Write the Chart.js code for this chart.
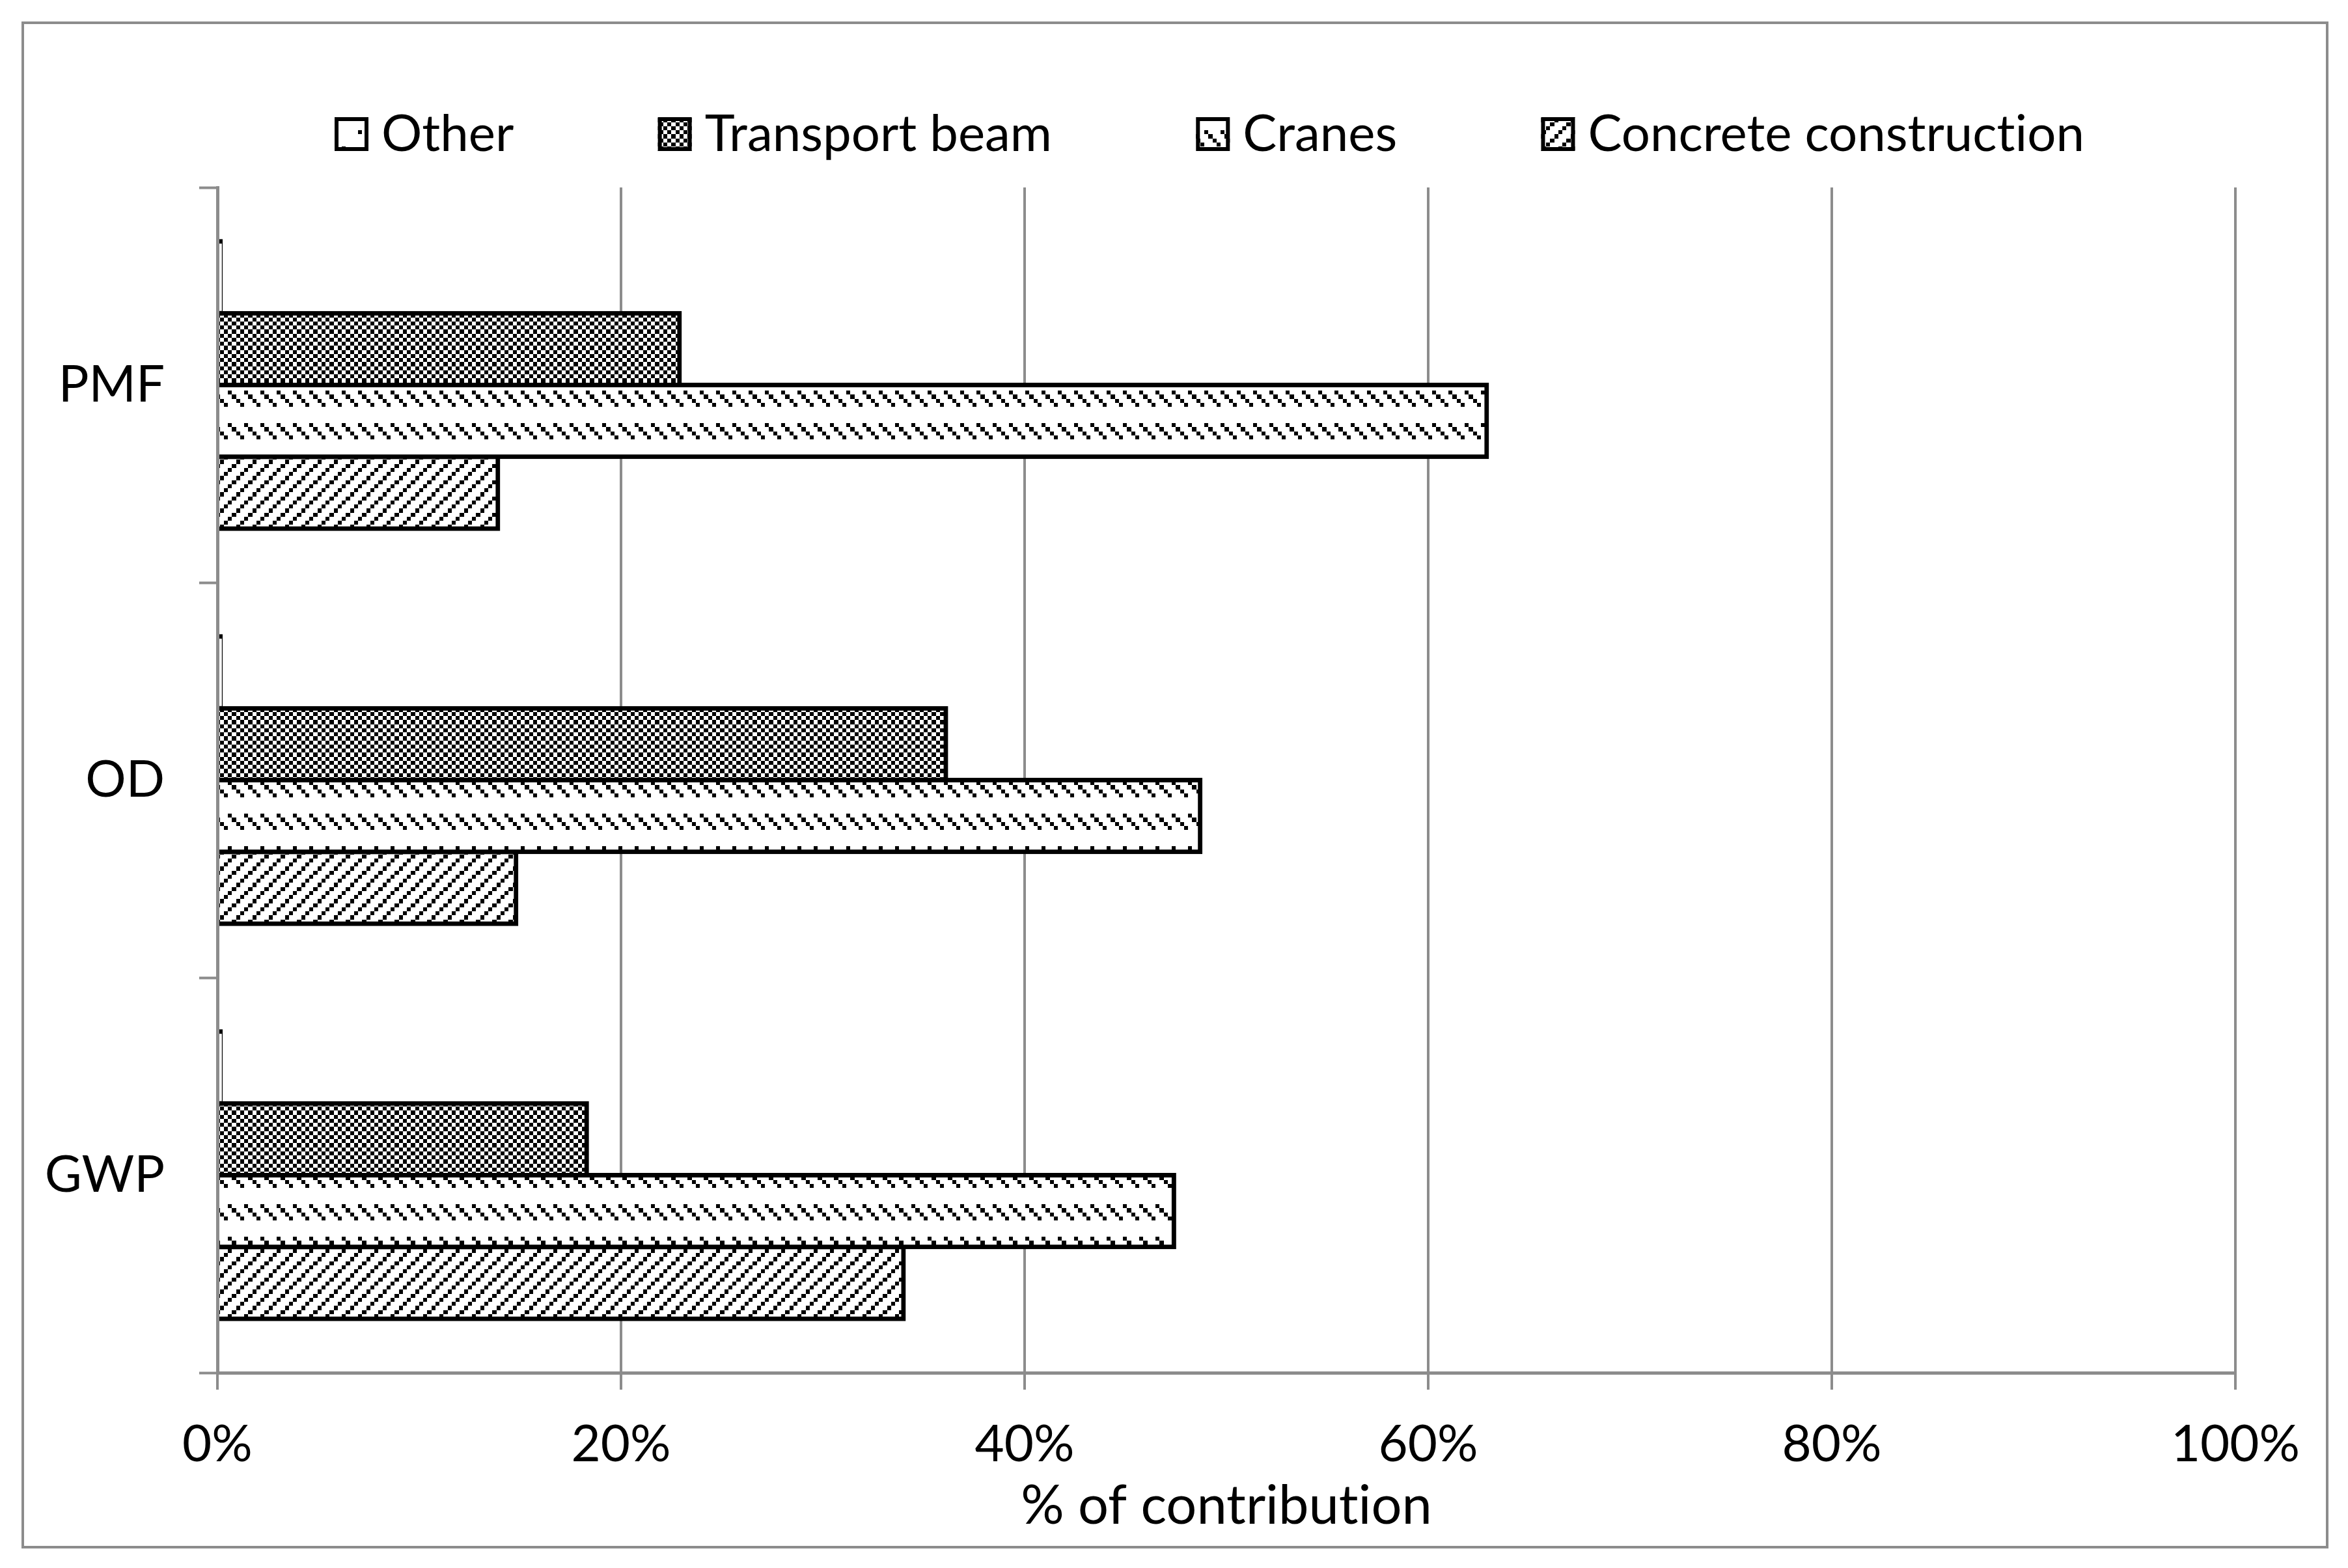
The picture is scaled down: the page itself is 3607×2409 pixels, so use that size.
<!DOCTYPE html>
<html lang="en">
<head>
<meta charset="UTF-8">
<title>% of contribution</title>
<script src="https://cdn.jsdelivr.net/npm/chart.js"></script>
<style>
  html, body { margin: 0; padding: 0; background: #fff; }
  #wrap { width: 3607px; height: 2409px; position: relative; }
  canvas { font-variant-ligatures: none; }
</style>
</head>
<body>
<div id="wrap"><canvas id="myChart"></canvas></div>
<script>
// data (percent of contribution)
const categories = ['PMF', 'OD', 'GWP'];
const seriesNames = ['Other', 'Transport beam', 'Cranes', 'Concrete construction'];
const other = [0.15, 0.15, 0.15];
const transportBeam = [22.9, 36.1, 18.3];
const cranes = [62.9, 48.7, 47.4];
const concreteConstruction = [13.9, 14.8, 34.0];
const xTicks = [0, 20, 40, 60, 80, 100];

const GRAY = '#8c8c8c';
Chart.defaults.font.family = 'Lato';
Chart.defaults.color = '#000';

// excel-like bitmap fills, 8x8 cells of 6.25px
function makePattern(rows) {
  const c = document.createElement('canvas');
  c.width = 50; c.height = 50;
  const g = c.getContext('2d');
  g.fillStyle = '#fff';
  g.fillRect(0, 0, 50, 50);
  g.fillStyle = '#000';
  rows.forEach((row, r) => {
    for (let k = 0; k < 8; k++) {
      if (row[k] !== 'x') continue;
      const x0 = Math.round(k * 6.25), x1 = Math.round((k + 1) * 6.25);
      const y0 = Math.round(r * 6.25), y1 = Math.round((r + 1) * 6.25);
      g.fillRect(x0, y0, x1 - x0, y1 - y0);
    }
  });
  return g.createPattern(c, 'repeat');
}

const patOther = makePattern([
  'x.......', '........', '........', '........',
  '....x...', '........', '........', '........'
]);
const patChecker = makePattern([
  'x.x.x.x.', '.x.x.x.x', 'x.x.x.x.', '.x.x.x.x',
  'x.x.x.x.', '.x.x.x.x', 'x.x.x.x.', '.x.x.x.x'
]);
const patDashDown = makePattern([
  'x...x...', '.x...x..', '..x...x.', '...x...x',
  '........', '........', '........', '........'
]);
const patUpDiag = makePattern([
  '...x...x', '..x...x.', '.x...x..', 'x...x...',
  '...x...x', '..x...x.', '.x...x..', 'x...x...'
]);

function bar(label, data, fill) {
  return {
    label: label,
    data: data,
    backgroundColor: fill,
    borderColor: '#000',
    borderWidth: 7,
    inflateAmount: 3.5,
    categoryPercentage: 0.727,
    barPercentage: 1.0
  };
}

// no ligatures (calibri-like "ti"), white page + grey outer frame
const framePlugin = {
  id: 'frame',
  beforeDraw(chart) {
    const ctx = chart.ctx;
    ctx.textRendering = 'optimizeSpeed';
    ctx.save();
    ctx.fillStyle = '#fff';
    ctx.fillRect(0, 0, chart.width, chart.height);
    ctx.strokeStyle = GRAY;
    ctx.lineWidth = 4;
    ctx.strokeRect(35, 35, 3540, 2342);
    ctx.restore();
  }
};

// legend drawn like the excel one (wide gaps, box close to text)
const legendPlugin = {
  id: 'excelLegend',
  afterDraw(chart) {
    const ctx = chart.ctx;
    const box = 52, gap = 20;
    const boxTop = 180, baseline = 232, left = 514, right = 3202;
    ctx.save();
    ctx.textRendering = 'optimizeSpeed';
    ctx.font = '78px Lato';
    const ds = chart.data.datasets;
    const widths = ds.map(d => box + gap + ctx.measureText(d.label).width);
    const sum = widths.reduce((a, b) => a + b, 0);
    const spacing = (right - left - sum) / (ds.length - 1);
    let x = left;
    ds.forEach((d, i) => {
      ctx.fillStyle = d.backgroundColor;
      ctx.fillRect(x, boxTop, box, box);
      ctx.lineWidth = 6;
      ctx.strokeStyle = '#000';
      ctx.strokeRect(x + 3, boxTop + 3, box - 6, box - 6);
      ctx.fillStyle = '#000';
      ctx.textAlign = 'left';
      ctx.textBaseline = 'alphabetic';
      ctx.fillText(d.label, x + box + gap, baseline);
      x += widths[i] + spacing;
    });
    ctx.restore();
  }
};

const ctx = document.getElementById('myChart').getContext('2d');

new Chart(ctx, {
  type: 'bar',
  data: {
    labels: categories,
    datasets: [
      bar(seriesNames[0], other, patOther),
      bar(seriesNames[1], transportBeam, patChecker),
      bar(seriesNames[2], cranes, patDashDown),
      bar(seriesNames[3], concreteConstruction, patUpDiag)
    ]
  },
  options: {
    indexAxis: 'y',
    responsive: true,
    maintainAspectRatio: false,
    animation: false,
    devicePixelRatio: 1,
    layout: { padding: { top: 288, left: 0, right: 173, bottom: 0 } },
    plugins: {
      legend: { display: false },
      tooltip: { enabled: false }
    },
    scales: {
      x: {
        min: 0,
        max: 100,
        afterBuildTicks: s => { s.ticks = xTicks.map(v => ({ value: v })); },
        afterFit: s => { s.height = 300; },
        grid: {
          color: GRAY,
          lineWidth: 4,
          drawTicks: true,
          tickLength: 26,
          tickColor: GRAY,
          tickWidth: 4
        },
        border: { display: true, color: GRAY, width: 5 },
        ticks: {
          font: { size: 78 },
          padding: 38,
          maxRotation: 0,
          callback: v => v + '%'
        },
        title: {
          display: true,
          text: '% of contribution',
          font: { size: 83 },
          padding: { top: 0, bottom: 45 }
        }
      },
      y: {
        afterFit: s => { s.width = 334; },
        grid: {
          drawOnChartArea: false,
          drawTicks: true,
          tickLength: 28,
          tickColor: GRAY,
          tickWidth: 4
        },
        border: { display: true, color: GRAY, width: 5, z: 1 },
        ticks: {
          font: { size: 78 },
          padding: 53
        }
      }
    }
  },
  plugins: [framePlugin, legendPlugin]
});
</script>
</body>
</html>
